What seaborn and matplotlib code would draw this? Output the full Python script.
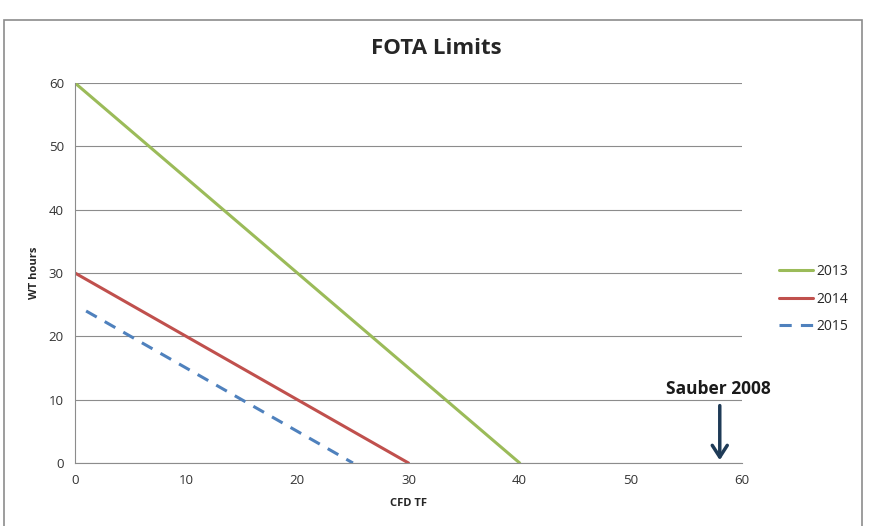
import pandas as pd
import numpy as np
import matplotlib.pyplot as plt
import matplotlib.patches as patches
import seaborn as sns

# data
cfd_2013 = [0, 40]
wt_2013 = [60, 0]
cfd_2014 = [0, 30]
wt_2014 = [30, 0]
cfd_2015 = [1, 25]
wt_2015 = [24, 0]
sauber_x = 58
sauber_y = 0

sns.set_theme(style="white")
plt.rcParams['font.family'] = ['Open Sans', 'DejaVu Sans']

fig = plt.figure(figsize=(8.73, 5.26), dpi=100)
ax = fig.add_axes([75 / 873, 1 - 463 / 526, 667 / 873, 380 / 526])

sns.lineplot(x=cfd_2013, y=wt_2013, ax=ax, color="#9BBB59", linewidth=2.2, label="2013")
sns.lineplot(x=cfd_2014, y=wt_2014, ax=ax, color="#C0504D", linewidth=2.2, label="2014")
sns.lineplot(x=cfd_2015, y=wt_2015, ax=ax, color="#4F81BD", linewidth=2.2,
             linestyle=(0, (4, 3)), label="2015")

ax.set_xlim(0, 60)
ax.set_ylim(0, 60)
ax.set_xticks(range(0, 61, 10))
ax.set_yticks(range(0, 61, 10))
ax.yaxis.grid(True, color="#8c8c8c", linewidth=0.8)
ax.set_axisbelow(True)
for side in ["top", "right"]:
    ax.spines[side].set_visible(False)
for side in ["left", "bottom"]:
    ax.spines[side].set_color("#8c8c8c")
    ax.spines[side].set_linewidth(0.8)
ax.tick_params(axis="both", labelsize=9.5, colors="#333333", length=0, pad=8)

ax.set_xlabel("CFD TF", fontsize=8, fontweight="bold", labelpad=8)
ax.set_ylabel("WT hours", fontsize=8, fontweight="bold", labelpad=6)
fig.text(0.5, 1 - 48 / 526, "FOTA Limits", ha="center", va="center",
         fontsize=16, fontweight="bold")

ax.annotate("", xy=(sauber_x, sauber_y), xytext=(sauber_x, 9.5),
            arrowprops=dict(arrowstyle="->,head_width=0.45,head_length=0.7",
                            color="#1F3B57", linewidth=2.5))
ax.text(sauber_x - 0.1, 11.7, "Sauber 2008", ha="center", va="center",
        fontsize=12.5, fontweight="bold", color="#1a1a1a")

ax.legend(loc="center left", bbox_to_anchor=(766 / 873, 1 - 299 / 526),
          bbox_transform=fig.transFigure, frameon=False, fontsize=10,
          handlelength=2.5, labelspacing=0.9, handletextpad=0.2)

# outer chart frame
fig.patches.append(patches.Rectangle((4 / 873, -0.02), 858 / 873, 1 - 20 / 526 + 0.02,
                                     transform=fig.transFigure, fill=False,
                                     edgecolor="#8c8c8c", linewidth=1.2))

fig.savefig("out.png", dpi=100)
